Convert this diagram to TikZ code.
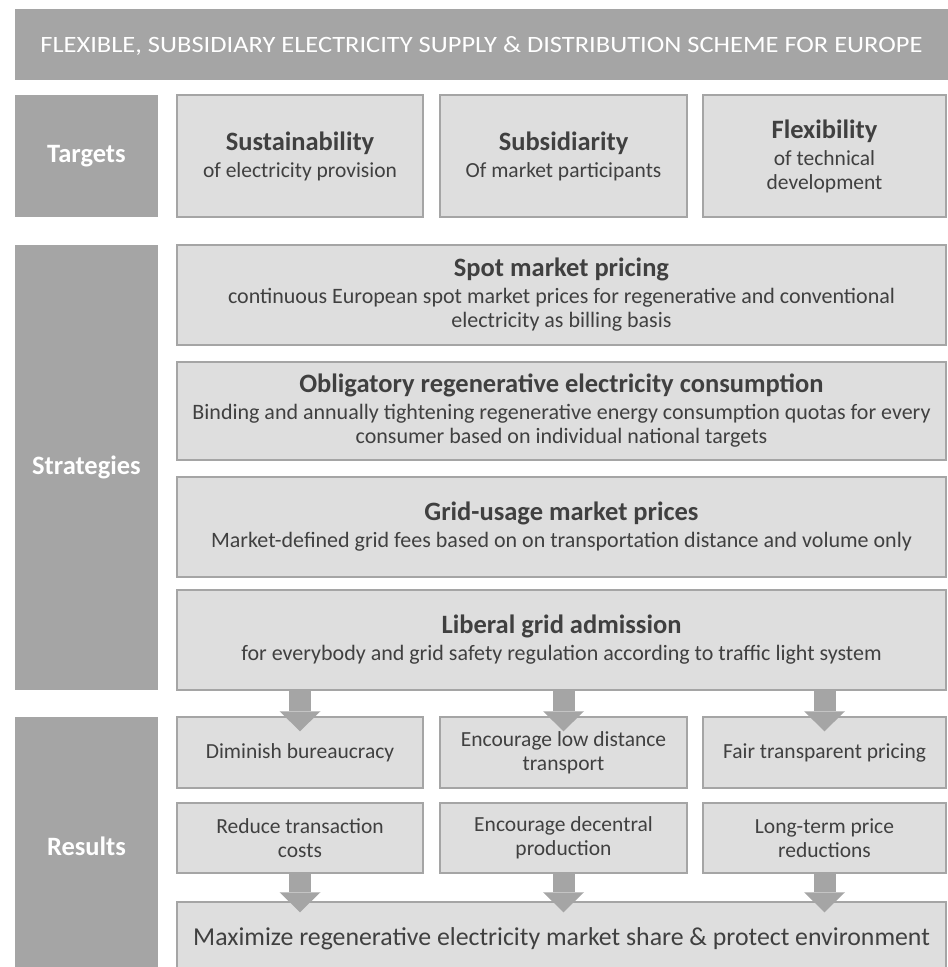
\documentclass[tikz,border=0pt]{standalone}
\usepackage{fontspec}
\setmainfont{Carlito}
\usetikzlibrary{arrows.meta,calc}

\definecolor{labgray}{HTML}{A5A5A5}
\definecolor{boxgray}{HTML}{DEDEDE}
\definecolor{txtgray}{HTML}{404040}

\newcommand{\hd}[1]{{\bfseries\fontsize{26.5}{29}\selectfont #1}}

\tikzset{
  titlebar/.style={fill=labgray, text=white, inner sep=0pt,
    minimum width=933pt, minimum height=71pt, text height=16pt, text depth=0pt},
  rowlabel/.style={fill=labgray, text=white, inner sep=0pt,
    minimum width=143pt, font=\bfseries\fontsize{26.5}{30}\selectfont},
  cell/.style={draw=labgray, line width=1.5pt, fill=boxgray, text=txtgray,
    align=center, inner sep=2pt, font=\fontsize{21.5}{24}\selectfont},
  strat/.style={cell, minimum width=769pt, font=\fontsize{22}{24}\selectfont},
  bigarrow/.style={draw=labgray, line width=22pt,
    -{Triangle[length=20pt, width=41pt, line width=0pt]}}
}

\begin{document}
\begin{tikzpicture}[x=1pt,y=-1pt]
  \useasboundingbox (0,0) rectangle (948,967);
  \clip (0,0) rectangle (948,967);

  % header
  \node[titlebar] (title) at (481.5,44.5)
    {\resizebox{882pt}{16pt}{FLEXIBLE, SUBSIDIARY ELECTRICITY SUPPLY \& DISTRIBUTION SCHEME FOR EUROPE}};

  % row labels
  \node[rowlabel, minimum height=122pt] (tgt) at (86.5,156) {Targets};
  \node[rowlabel, minimum height=445pt] (str) at (86.5,467.5) {Strategies};
  \node[rowlabel, minimum height=258pt] (res) at (86.5,846) {Results};

  % targets
  \node[cell, minimum width=246pt, minimum height=122pt] (sus) at (300,156)
    {\hd{Sustainability}\\[3pt] of electricity provision};
  \node[cell, minimum width=247pt, minimum height=122pt] (sub) at (563.5,156)
    {\hd{Subsidiarity}\\[3pt] Of market participants};
  \node[cell, minimum width=243pt, minimum height=122pt] (flex) at (824.5,156)
    {\hd{Flexibility}\\[3pt] of technical\\ development};

  % strategies
  \node[strat, minimum height=100pt] (spot) at (561.5,295)
    {\hd{Spot market pricing}\\[3pt] continuous European spot market prices for regenerative and conventional\\ electricity as billing basis};
  \node[strat, minimum height=98pt] (obl) at (561.5,411)
    {\hd{Obligatory regenerative electricity consumption}\\[3pt] Binding and annually tightening regenerative energy consumption quotas for every\\ consumer based on individual national targets};
  \node[strat, minimum height=100pt] (grid) at (561.5,527)
    {\hd{Grid-usage market prices}\\[3pt] Market-defined grid fees based on on transportation distance and volume only};
  \node[strat, minimum height=100pt] (adm) at (561.5,640)
    {\hd{Liberal grid admission}\\[3pt] for everybody and grid safety regulation according to traffic light system};

  % results
  \node[cell, minimum width=246pt, minimum height=71pt] (dim) at (300,752.5) {Diminish bureaucracy};
  \node[cell, minimum width=247pt, minimum height=71pt] (low) at (563.5,752.5) {Encourage low distance\\ transport};
  \node[cell, minimum width=243pt, minimum height=71pt] (fair) at (824.5,752.5) {Fair transparent pricing};
  \node[cell, minimum width=246pt, minimum height=70pt] (trans) at (300,838) {Reduce transaction\\ costs};
  \node[cell, minimum width=247pt, minimum height=70pt] (dec) at (563.5,838) {Encourage decentral\\ production};
  \node[cell, minimum width=243pt, minimum height=70pt] (long) at (824.5,838) {Long-term price\\ reductions};
  \node[cell, minimum width=769pt, minimum height=73pt, font=\fontsize{25.8}{28}\selectfont] (max) at (561.5,938.5)
    {Maximize regenerative electricity market share \& protect environment};

  % arrows
  \foreach \r in {dim,low,fair}
    \draw[bigarrow] (adm.south -| \r.north) -- ($(\r.north)+(0,15)$);
  \foreach \r in {trans,dec,long}
    \draw[bigarrow] (\r.south) -- ($(\r.south |- max.north)+(0,11)$);
\end{tikzpicture}
\end{document}
